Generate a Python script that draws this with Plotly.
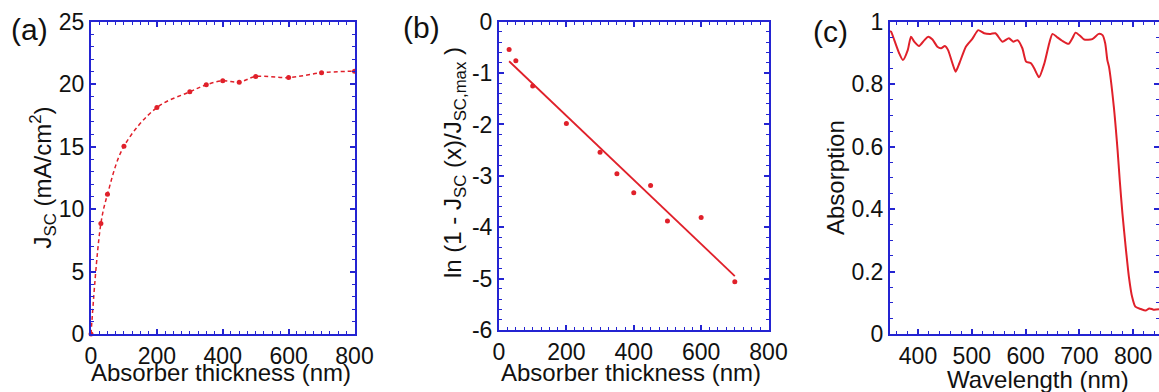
import plotly.graph_objects as go

# Panel (a): short-circuit current density vs absorber thickness
thickness_a = [0, 30, 50, 100, 200, 300, 350, 400, 450, 500, 600, 700, 800]
jsc = [0, 8.85, 11.18, 15.03, 18.13, 19.39, 19.95, 20.27, 20.16, 20.61, 20.53, 20.91, 21.04]

# Panel (b): ln(1 - Jsc/Jsc,max) vs absorber thickness, with a linear fit
thickness_b = [30, 50, 100, 200, 300, 350, 400, 450, 500, 600, 700]
ln_ratio = [-0.54, -0.76, -1.25, -1.98, -2.54, -2.96, -3.33, -3.19, -3.88, -3.81, -5.06]
fit_x = [30, 700]
fit_y = [-0.77, -4.95]

# Panel (c): absorption spectrum
wavelength = [348, 350, 356, 365, 372, 381, 387, 393, 402, 412, 419, 427, 436, 443, 450,
              456, 464, 470, 477, 489, 501, 512, 523, 535, 544, 557, 569, 577, 585, 594,
              601, 610, 616, 625, 635, 644, 650, 659, 668, 680, 687, 693, 703, 709, 724,
              736, 743, 748, 752, 755, 764, 771, 775, 780, 786, 792, 798, 804, 814, 823,
              830, 838, 848]
absorption = [0.970, 0.968, 0.941, 0.899, 0.877, 0.909, 0.952, 0.936, 0.922, 0.941, 0.952,
              0.943, 0.920, 0.915, 0.922, 0.909, 0.867, 0.840, 0.867, 0.920, 0.945, 0.973,
              0.963, 0.961, 0.963, 0.936, 0.947, 0.936, 0.941, 0.915, 0.872, 0.867, 0.851,
              0.822, 0.867, 0.931, 0.961, 0.950, 0.939, 0.929, 0.947, 0.965, 0.952, 0.943,
              0.944, 0.961, 0.957, 0.931, 0.877, 0.856, 0.728, 0.589, 0.493, 0.386, 0.280,
              0.184, 0.119, 0.0875, 0.080, 0.075, 0.082, 0.078, 0.079]

# Tick labels
ticks_a_y = [0, 5, 10, 15, 20, 25]
ticks_b_y = [0, -1, -2, -3, -4, -5, -6]
ticks_b_y_text = ["0", "-1", "-2", "-3", "-4", "-5", "-6"]
ticks_thick = [0, 200, 400, 600, 800]
ticks_wl = [400, 500, 600, 700, 800]
ticks_abs = [0, 0.2, 0.4, 0.6, 0.8, 1]
ticks_abs_text = ["0", "0.2", "0.4", "0.6", "0.8", "1"]

RED = "#e0202a"
BLUE = "#2424d2"
FONT = "Liberation Sans, Arial, sans-serif"
W, H = 1159, 392


def px_x(p):
    return p / W


def px_y(p):
    return (H - p) / H


def axis_style(**kw):
    d = dict(
        showline=True, linecolor=BLUE, linewidth=2, mirror="ticks",
        ticks="inside", ticklen=5, tickwidth=1.5, tickcolor=BLUE,
        showgrid=False, zeroline=False, automargin=False,
        tickfont=dict(family=FONT, size=23, color="#111"),
        minor=dict(ticks="inside", ticklen=3, tickwidth=1.2, tickcolor=BLUE, showgrid=False),
    )
    minor = kw.pop("minor", None)
    d.update(kw)
    if minor:
        d["minor"].update(minor)
    return d


fig = go.Figure()

fig.add_trace(go.Scatter(
    x=thickness_a, y=jsc, mode="lines+markers", xaxis="x", yaxis="y",
    line=dict(color=RED, width=1.5, dash="4px,3px", shape="spline"),
    marker=dict(size=5, color=RED), cliponaxis=False, showlegend=False))

fig.add_trace(go.Scatter(
    x=fit_x, y=fit_y, mode="lines", xaxis="x2", yaxis="y2",
    line=dict(color=RED, width=1.8), showlegend=False))
fig.add_trace(go.Scatter(
    x=thickness_b, y=ln_ratio, mode="markers", xaxis="x2", yaxis="y2",
    marker=dict(size=5, color=RED), cliponaxis=False, showlegend=False))

fig.add_trace(go.Scatter(
    x=wavelength, y=absorption, mode="lines", xaxis="x3", yaxis="y3",
    line=dict(color=RED, width=2, shape="spline", smoothing=0.6), showlegend=False))

ya = [px_y(334), px_y(21.7)]
yb = [px_y(330), px_y(21.7)]

fig.update_layout(
    width=W, height=H,
    margin=dict(l=0, r=0, t=0, b=0, autoexpand=False),
    paper_bgcolor="white", plot_bgcolor="white",
    xaxis=axis_style(domain=[px_x(91), px_x(354.5)], anchor="y", range=[0, 800],
                     tickvals=ticks_thick, minor=dict(dtick=25, tick0=0)),
    yaxis=axis_style(domain=ya, anchor="x", range=[0, 25],
                     tickvals=ticks_a_y, minor=dict(dtick=1, tick0=0)),
    xaxis2=axis_style(domain=[px_x(499), px_x(768.5)], anchor="y2", range=[0, 800],
                      tickvals=ticks_thick, minor=dict(dtick=25, tick0=0)),
    yaxis2=axis_style(domain=yb, anchor="x2", range=[-6, 0],
                      tickvals=ticks_b_y, ticktext=ticks_b_y_text,
                      minor=dict(dtick=0.2, tick0=0)),
    xaxis3=axis_style(domain=[px_x(890), 1.0], anchor="y3", range=[348, 848],
                      tickvals=ticks_wl, minor=dict(dtick=20, tick0=400)),
    yaxis3=axis_style(domain=ya, anchor="x3", range=[0, 1],
                      tickvals=ticks_abs, ticktext=ticks_abs_text,
                      minor=dict(dtick=0.05, tick0=0)),
)

title_font = dict(family=FONT, size=24, color="#111")
label_font = dict(family=FONT, size=30, color="#111")
annotations = [
    dict(text="(a)", x=px_x(9), y=px_y(29), xanchor="left", yanchor="middle", font=label_font),
    dict(text="(b)", x=px_x(401), y=px_y(28), xanchor="left", yanchor="middle", font=label_font),
    dict(text="(c)", x=px_x(811), y=px_y(31), xanchor="left", yanchor="middle", font=label_font),
    dict(text="Absorber thickness (nm)", x=px_x(221), y=px_y(372),
         xanchor="center", yanchor="middle", font=title_font),
    dict(text="Absorber thickness (nm)", x=px_x(631), y=px_y(372),
         xanchor="center", yanchor="middle", font=title_font),
    dict(text="Wavelength (nm)", x=px_x(1038), y=px_y(379),
         xanchor="center", yanchor="middle", font=title_font),
    dict(text="J<sub>SC</sub> (mA/cm<sup>2</sup>)", x=px_x(42.5), y=px_y(178), textangle=-90,
         xanchor="center", yanchor="middle", font=title_font),
    dict(text="ln (1 - J<sub>SC</sub> (x)/J<sub>SC,max</sub> )", x=px_x(454), y=px_y(163),
         textangle=-90, xanchor="center", yanchor="middle", font=title_font),
    dict(text="Absorption", x=px_x(835), y=px_y(178), textangle=-90,
         xanchor="center", yanchor="middle", font=title_font),
]
for a in annotations:
    a.update(xref="paper", yref="paper", showarrow=False)
fig.update_layout(annotations=annotations)

fig.write_html("out.html")
